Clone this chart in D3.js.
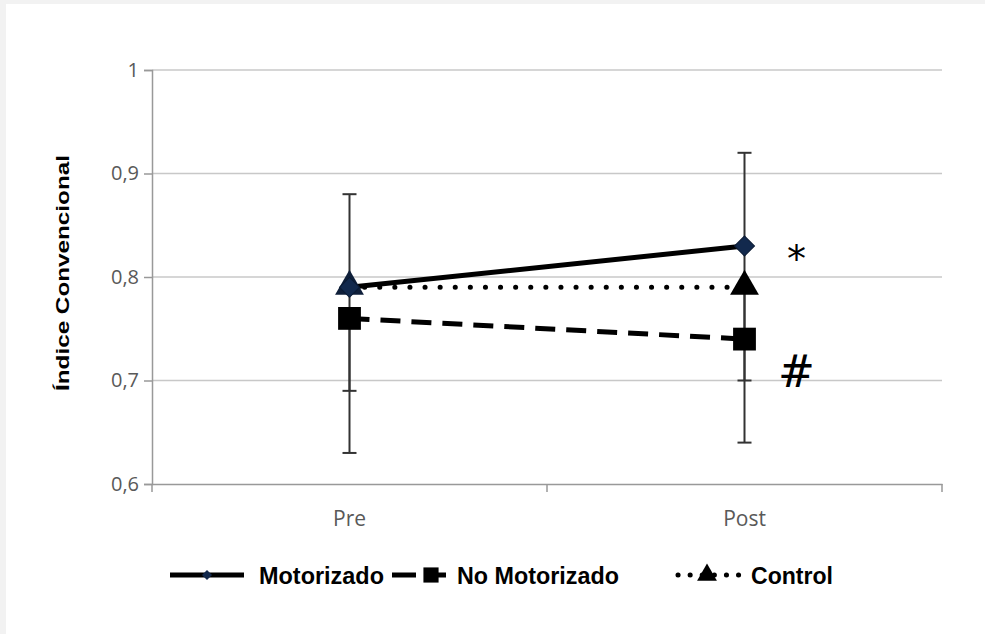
<!DOCTYPE html>
<html>
<head>
<meta charset="utf-8">
<script src="https://cdn.jsdelivr.net/npm/d3@7"></script>
<style>
    body { margin: 0; background: #fff; }
    svg { display: block; }
</style>
</head>
<body>
<div id="chart"></div>
<script>
'use strict';
// data
var categories = ["Pre", "Post"];
var seriesNames = ["Motorizado", "No Motorizado", "Control"];
var motorizado = [0.79, 0.83];
var noMotorizado = [0.76, 0.74];
var control = [0.79, 0.79];
// error bar ends (low / high) per series
var motorizadoLow = [0.69, 0.74], motorizadoHigh = [0.88, 0.92];
var noMotorizadoLow = [0.63, 0.64], noMotorizadoHigh = [0.76, 0.74];
var controlLow = [0.79, 0.70], controlHigh = [0.79, 0.79];
var yTicks = [0.6, 0.7, 0.8, 0.9, 1];
var marks = ["*", "#"];

var width = 985, height = 634;
var margin = {top: 70, right: 43, bottom: 150, left: 152};

var svg = d3.select("#chart").append("svg")
    .attr("width", width)
    .attr("height", height);

// faint frame on top / left like the scanned figure
svg.append("rect").attr("x", 0).attr("y", 0).attr("width", width).attr("height", 4).attr("fill", "#f2f2f2");
svg.append("rect").attr("x", 0).attr("y", 0).attr("width", 6).attr("height", height).attr("fill", "#f2f2f2");

var x = d3.scaleBand()
    .domain(categories)
    .range([margin.left, width - margin.right]);
var y = d3.scaleLinear()
    .domain([0.6, 1])
    .range([height - margin.bottom, margin.top]);

var cx = function (i) { return x(categories[i]) + x.bandwidth() / 2; };

// grid
svg.append("g").selectAll("line")
    .data(yTicks.slice(1))
    .enter()
    .append("line")
    .attr("x1", margin.left)
    .attr("x2", width - margin.right)
    .attr("y1", function (d) { return y(d); })
    .attr("y2", function (d) { return y(d); })
    .attr("stroke", "#c8c8c8")
    .attr("stroke-width", 1.5);

// y axis
var yAxis = svg.append("g")
    .attr("transform", "translate(" + margin.left + ",0)")
    .call(d3.axisLeft(y).tickValues(yTicks).tickSize(8).tickPadding(5)
        .tickFormat(function (d) { return d === 1 ? "1" : d3.format(".1f")(d).replace(".", ","); }));
yAxis.select(".domain").attr("stroke", "#999").attr("stroke-width", 1.5);
yAxis.selectAll(".tick line").attr("stroke", "#999").attr("stroke-width", 1.5);
yAxis.selectAll("text")
    .attr("fill", "#595959")
    .style("font-family", "'Open Sans', sans-serif")
    .style("font-size", "20px");

// x axis
var xAxis = svg.append("g")
    .attr("transform", "translate(0," + y(0.6) + ")")
    .call(d3.axisBottom(x).tickSize(0).tickPadding(27));
xAxis.select(".domain").attr("stroke", "#999").attr("stroke-width", 1.5);
xAxis.selectAll("text")
    .attr("fill", "#595959")
    .style("font-family", "'Open Sans', sans-serif")
    .style("font-size", "21px");
// tick marks between categories
svg.append("g").selectAll("line")
    .data([0, 1, 2])
    .enter()
    .append("line")
    .attr("x1", function (d) { return margin.left + d * x.bandwidth(); })
    .attr("x2", function (d) { return margin.left + d * x.bandwidth(); })
    .attr("y1", y(0.6))
    .attr("y2", y(0.6) + 8)
    .attr("stroke", "#999")
    .attr("stroke-width", 1.5);

// axis title
svg.append("text")
    .attr("transform", "translate(69," + 273 + ") rotate(-90)")
    .attr("text-anchor", "middle")
    .attr("textLength", 236)
    .attr("lengthAdjust", "spacingAndGlyphs")
    .style("font-family", "'Liberation Sans', Arial, sans-serif")
    .style("font-weight", "bold")
    .style("font-size", "19px")
    .text("Índice Convencional");

var series = [
    {name: seriesNames[0], values: motorizado, low: motorizadoLow, high: motorizadoHigh, dash: null, cap: "butt"},
    {name: seriesNames[1], values: noMotorizado, low: noMotorizadoLow, high: noMotorizadoHigh, dash: "20,11", cap: "butt"},
    {name: seriesNames[2], values: control, low: controlLow, high: controlHigh, dash: "0.1,15", cap: "round"}
];

// error bars
var errG = svg.append("g");
series.forEach(function (s) {
    s.values.forEach(function (v, i) {
        var ends = [s.low[i], s.high[i]];
        errG.append("line")
            .attr("x1", cx(i)).attr("x2", cx(i))
            .attr("y1", y(ends[0])).attr("y2", y(ends[1]))
            .attr("stroke", "#333").attr("stroke-width", 2);
        ends.forEach(function (e) {
            if (e === v) return;
            errG.append("line")
                .attr("x1", cx(i) - 7).attr("x2", cx(i) + 7)
                .attr("y1", y(e)).attr("y2", y(e))
                .attr("stroke", "#333").attr("stroke-width", 2);
        });
    });
});

// lines
var line = d3.line()
    .x(function (d, i) { return cx(i); })
    .y(function (d) { return y(d); });

series.forEach(function (s) {
    svg.append("path")
        .datum(s.values)
        .attr("d", line)
        .attr("fill", "none")
        .attr("stroke", "#000")
        .attr("stroke-width", 5)
        .attr("stroke-linecap", s.cap)
        .attr("stroke-dasharray", s.dash);
});

// markers
var diamond = d3.symbol().type(d3.symbolSquare).size(200);
var square = d3.symbol().type(d3.symbolSquare).size(520);
var triangle = d3.symbol().type(d3.symbolTriangle).size(360);

svg.append("g").selectAll("path")
    .data(control)
    .enter()
    .append("path")
    .attr("transform", function (d, i) { return "translate(" + cx(i) + "," + (y(d) - 1) + ")"; })
    .attr("d", triangle)
    .attr("fill", function (d, i) { return i === 0 ? "#0f1f3a" : "#000"; });
svg.append("g").selectAll("path")
    .data(noMotorizado)
    .enter()
    .append("path")
    .attr("transform", function (d, i) { return "translate(" + cx(i) + "," + y(d) + ")"; })
    .attr("d", square)
    .attr("fill", "#000");
svg.append("g").selectAll("path")
    .data(motorizado)
    .enter()
    .append("path")
    .attr("transform", function (d, i) { return "translate(" + cx(i) + "," + y(d) + ") rotate(45)"; })
    .attr("d", diamond)
    .attr("fill", "#12294d")
    .attr("stroke", "#0a1a33")
    .attr("stroke-width", 1);

// significance marks
svg.append("text")
    .attr("x", cx(1) + 52)
    .attr("y", y(motorizado[1]) + 26)
    .attr("text-anchor", "middle")
    .style("font-family", "'DejaVu Sans', sans-serif")
    .style("font-size", "38px")
    .text(marks[0]);
svg.append("text")
    .attr("x", cx(1) + 52)
    .attr("y", y(0.7) + 6)
    .attr("text-anchor", "middle")
    .style("font-family", "'DejaVu Serif', serif")
    .style("font-size", "44px")
    .text(marks[1]);

// legend
var legendY = 575;
var legend = [
    {x1: 170, x2: 244, mx: 207, text: 259, len: 125},
    {x1: 392, x2: 446, mx: 431, text: 457, len: 162},
    {x1: 678, x2: 747, mx: 707, text: 751, len: 82}
];
var legendSym = [
    d3.symbol().type(d3.symbolSquare).size(50),
    d3.symbol().type(d3.symbolSquare).size(230),
    d3.symbol().type(d3.symbolTriangle).size(170)
];
series.forEach(function (s, i) {
    var L = legend[i];
    svg.append("line")
        .attr("x1", L.x1).attr("x2", L.x2)
        .attr("y1", legendY).attr("y2", legendY)
        .attr("stroke", "#000")
        .attr("stroke-width", 5)
        .attr("stroke-linecap", s.cap)
        .attr("stroke-dasharray", i === 1 ? "24,10" : (i === 2 ? "0.1,12" : null));
    svg.append("path")
        .attr("transform", "translate(" + L.mx + "," + legendY + ")" + (i === 0 ? " rotate(45)" : ""))
        .attr("d", legendSym[i]())
        .attr("fill", i === 0 ? "#12294d" : "#000");
    svg.append("text")
        .attr("x", L.text)
        .attr("y", legendY + 9)
        .attr("textLength", L.len)
        .attr("lengthAdjust", "spacingAndGlyphs")
        .style("font-family", "'Liberation Sans', Arial, sans-serif")
        .style("font-weight", "bold")
        .style("font-size", "24px")
        .text(s.name);
});
</script>
</body>
</html>
